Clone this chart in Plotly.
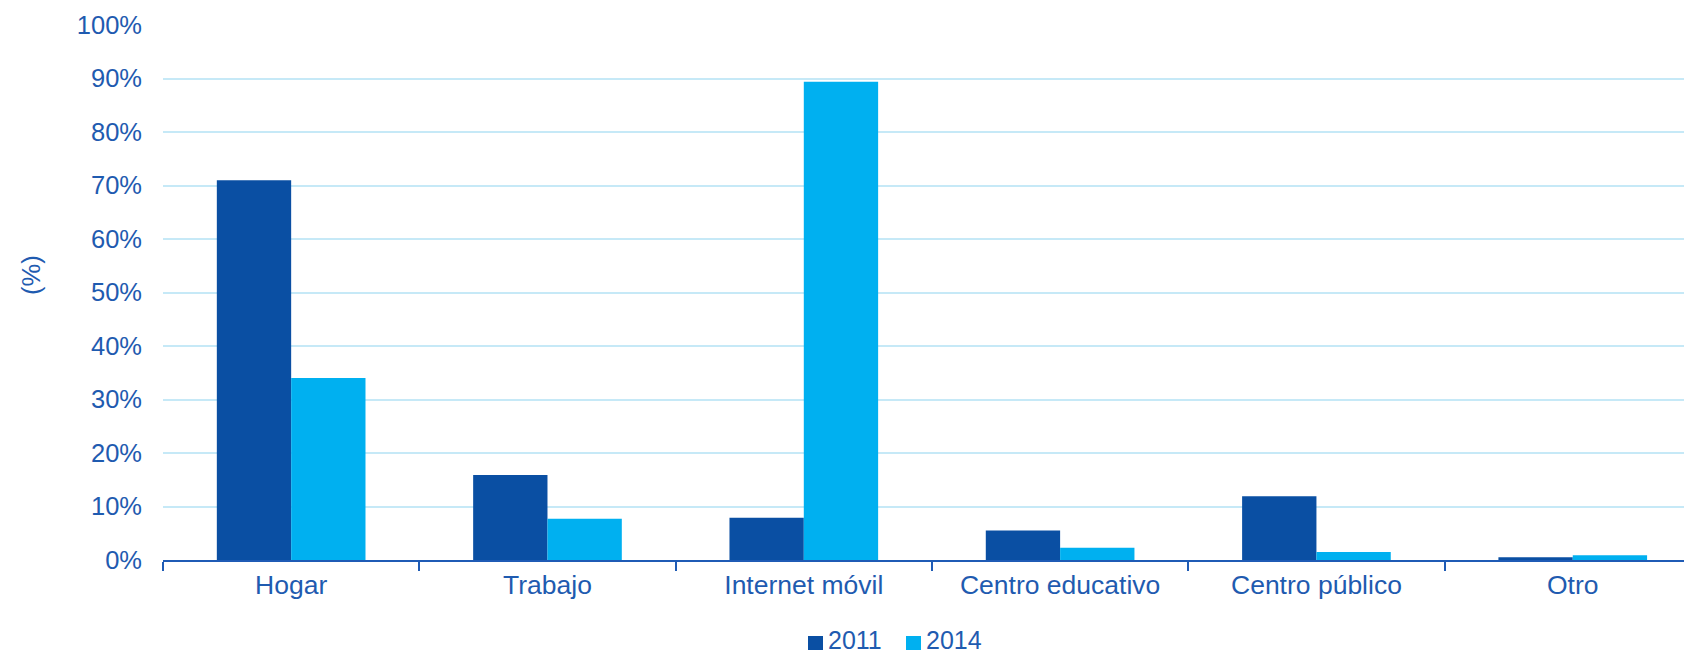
import plotly.graph_objects as go

categories = ["Hogar", "Trabajo", "Internet móvil", "Centro educativo", "Centro público", "Otro"]
values_2011 = [71.0, 15.9, 7.9, 5.5, 11.9, 0.5]
values_2014 = [34.0, 7.7, 89.4, 2.3, 1.5, 0.9]
y_ticks = [0, 10, 20, 30, 40, 50, 60, 70, 80, 90, 100]
y_tick_labels = ["0%", "10%", "20%", "30%", "40%", "50%", "60%", "70%", "80%", "90%", "100%"]
series_names = ["2011", "2014"]
series_colors = ["#0A4FA3", "#00B0F0"]

TXT = "#1F5BB0"
FONT = "Liberation Sans, Arial, sans-serif"

L, T, W, H = 163, 25, 1521, 535  # plot area in pixels


def px(x):
    return (x - L) / W


def py(y):
    return (T + H - y) / H


fig = go.Figure()
for name, vals, col in zip(series_names, [values_2011, values_2014], series_colors):
    fig.add_trace(go.Bar(name=name, x=categories, y=vals, marker_color=col,
                         marker_line_width=0, showlegend=False))

# custom legend
shapes = []
annotations = []
legend_x = [808, 906]
for name, col, lx in zip(series_names, series_colors, legend_x):
    shapes.append(dict(type="rect", xref="paper", yref="paper",
                       x0=px(lx), x1=px(lx + 15), y0=py(650), y1=py(636),
                       fillcolor=col, line_width=0))
    annotations.append(dict(text=name, x=px(lx + 18), y=py(640), xref="paper", yref="paper",
                            xanchor="left", yanchor="middle", showarrow=False,
                            font=dict(size=25, color=TXT)))

annotations.append(dict(text="(%)", x=px(31), y=py(275), xref="paper",
                        yref="paper", textangle=-90, showarrow=False,
                        xanchor="center", yanchor="middle", font=dict(size=25.5, color=TXT)))

fig.update_layout(
    width=1684, height=656,
    margin=dict(l=L, r=0, t=T, b=656 - T - H),
    paper_bgcolor="white", plot_bgcolor="white",
    barmode="group", bargap=0.42, bargroupgap=0,
    font=dict(family=FONT, size=25.5, color=TXT),
    showlegend=False,
    xaxis=dict(range=[-0.5, 5.434], showline=True, linecolor="#1F5BB5", linewidth=2,
               ticks="outside", tickson="boundaries", ticklen=9, tickwidth=2,
               tickcolor="#1F5BB5", showgrid=False, automargin=False,
               tickfont=dict(size=26.5, color=TXT)),
    yaxis=dict(range=[0, 100], tickvals=y_ticks, ticktext=y_tick_labels, showgrid=True,
               gridcolor="#C6E9F7", gridwidth=1.5, zeroline=False, showline=False,
               automargin=False, ticklabelstandoff=20,
               tickfont=dict(size=25.5, color=TXT)),
    shapes=shapes,
    annotations=annotations,
)

fig.write_html("out.html", config={"displayModeBar": False},
               post_script="document.body.style.margin='0px';document.body.style.overflow='hidden';")
